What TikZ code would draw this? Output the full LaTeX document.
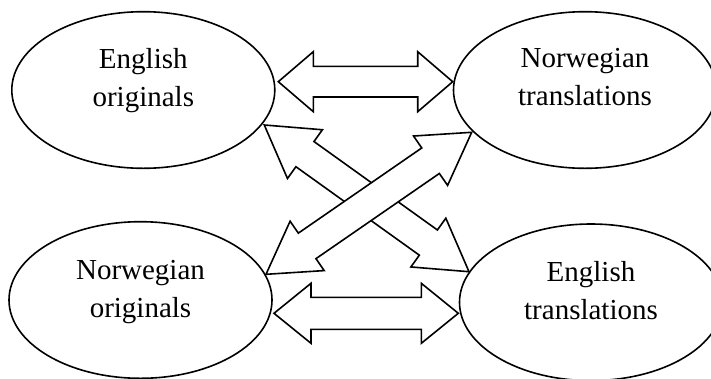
\documentclass[tikz,border=0pt]{standalone}
\usepackage{fontspec}
\setmainfont{Liberation Serif}
\usetikzlibrary{shapes.geometric,calc}
\tikzset{
  oval/.style={ellipse, draw, line width=1.6pt, minimum width=263pt, minimum height=156.6pt, inner sep=0pt},
  ovaltext/.style={font=\fontsize{29}{38}\selectfont, align=center, inner sep=0pt, anchor=north},
  blockarrow/.style={draw, fill=white, line width=1.6pt, line join=miter},
}
% #1 tip a, #2 tip b, #3 head length, #4 head half width, #5 shaft half width
\newcommand\dblblockarrow[5]{%
  \draw[blockarrow] (#1)
   -- ($(#1)!#3!(#2)!#4!90:(#2)$)
   -- ($(#1)!#3!(#2)!#5!90:(#2)$)
   -- ($(#2)!#3!(#1)!#5!-90:(#1)$)
   -- ($(#2)!#3!(#1)!#4!-90:(#1)$)
   -- (#2)
   -- ($(#2)!#3!(#1)!#4!90:(#1)$)
   -- ($(#2)!#3!(#1)!#5!90:(#1)$)
   -- ($(#1)!#3!(#2)!#5!-90:(#2)$)
   -- ($(#1)!#3!(#2)!#4!-90:(#2)$)
   -- cycle;}
\begin{document}
\begin{tikzpicture}[x=1pt, y=-1pt]
\useasboundingbox (0,0) rectangle (711,378);
\clip (0,0) rectangle (711,378);
% arrow ends
\coordinate (h1a) at (278.3,81.7);
\coordinate (h1b) at (452.7,81.7);
\coordinate (h2a) at (274,313.3);
\coordinate (h2b) at (458.3,313.3);
\coordinate (d1a) at (264.3,125);
\coordinate (d1b) at (469,271.7);
\coordinate (d2a) at (266,274.3);
\coordinate (d2b) at (471.7,132.3);
% arrows
\dblblockarrow{h1a}{h1b}{35pt}{30pt}{15.3pt}
\dblblockarrow{h2a}{h2b}{37pt}{30pt}{16pt}
\dblblockarrow{d1a}{d1b}{50pt}{30pt}{15.5pt}
\dblblockarrow{d2a}{d2b}{50pt}{30pt}{15.5pt}
% ellipses
\node[oval] (eo) at (143.3,90) {};
\node[oval] (nt) at (585,90) {};
\node[oval] (no) at (140.5,300) {};
\node[oval] (et) at (591,302.3) {};
% texts
\node[ovaltext] (eoT) at ($(eo)+(0,-41.5)$) {English\\originals};
\node[ovaltext] (ntT) at ($(nt)+(0,-41.5)$) {Norwegian\\translations};
\node[ovaltext] (noT) at ($(no)+(0,-39.8)$) {Norwegian\\originals};
\node[ovaltext] (etT) at ($(et)+(0,-41.1)$) {English\\translations};
\end{tikzpicture}
\end{document}
